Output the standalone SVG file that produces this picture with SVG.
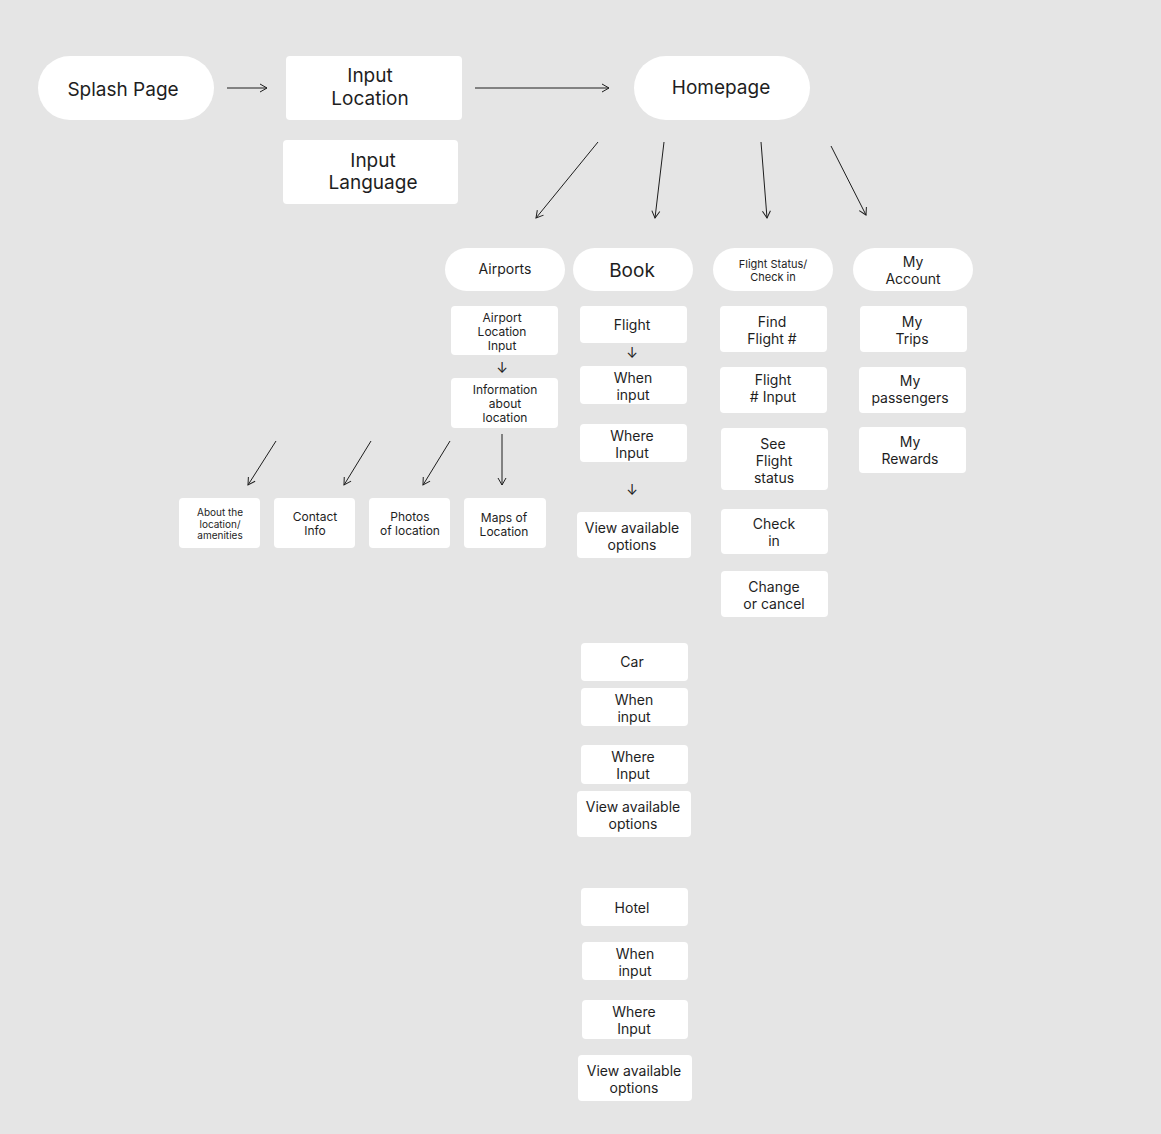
<svg xmlns="http://www.w3.org/2000/svg" width="1161" height="1134" viewBox="0 0 1161 1134">
<style>
.b{fill:#fff}
text{font-family:Inter,"Noto Sans","Liberation Sans",sans-serif;fill:#1e1e1e;text-anchor:middle;dominant-baseline:central}
.l{font-size:19px}.m{font-size:14px}.s{font-size:12px}.xs{font-size:11px}.t{font-size:10px}
.c line{stroke:#1e1e1e;stroke-width:1;marker-end:url(#a)}
</style>
<defs><marker id="a" markerWidth="10" markerHeight="10" refX="8" refY="5" orient="auto" markerUnits="userSpaceOnUse"><path d="M1,1 L8,5 L1,9" fill="none" stroke="#1e1e1e" stroke-width="1"/></marker></defs>
<rect width="1161" height="1134" fill="#e5e5e5"/>
<g class="c">
<line x1="227" y1="88" x2="267" y2="88"/>
<line x1="475" y1="88" x2="609" y2="88"/>
<line x1="598" y1="142" x2="536" y2="218"/>
<line x1="664" y1="142" x2="655" y2="218"/>
<line x1="761" y1="142" x2="767" y2="218"/>
<line x1="831" y1="146" x2="866" y2="215"/>
<line x1="276" y1="441" x2="248" y2="485"/>
<line x1="371" y1="441" x2="344" y2="485"/>
<line x1="450" y1="441" x2="423" y2="485"/>
<line x1="502" y1="434" x2="502" y2="485"/>
</g>
<g id="splash"><rect class="b" x="38" y="56" width="176" height="64" rx="32"/><text class="l" x="123" y="89">Splash Page</text></g>
<g id="inloc"><rect class="b" x="286" y="56" width="176" height="64" rx="4"/><text class="l" x="370" y="75">Input</text><text class="l" x="370" y="98">Location</text></g>
<g id="inlang"><rect class="b" x="283" y="140" width="175" height="64" rx="4"/><text class="l" x="373" y="160">Input</text><text class="l" x="373" y="182">Language</text></g>
<g id="home"><rect class="b" x="634" y="56" width="176" height="64" rx="32"/><text class="l" x="721" y="87">Homepage</text></g>
<g id="airports"><rect class="b" x="445" y="248" width="120" height="43" rx="21.5"/><text class="m" x="505" y="268">Airports</text></g>
<g id="book"><rect class="b" x="573" y="248" width="120" height="43" rx="21.5"/><text class="l" x="632" y="270">Book</text></g>
<g id="fstatus"><rect class="b" x="713" y="248" width="120" height="43" rx="21.5"/><text class="xs" x="773" y="264">Flight Status/</text><text class="xs" x="773" y="277">Check in</text></g>
<g id="account"><rect class="b" x="853" y="248" width="120" height="43" rx="21.5"/><text class="m" x="913" y="261">My</text><text class="m" x="913" y="278">Account</text></g>
<g id="apin"><rect class="b" x="451" y="306" width="107" height="49" rx="4"/><text class="s" x="502" y="317">Airport</text><text class="s" x="502" y="331">Location</text><text class="s" x="502" y="345">Input</text></g>
<text class="m" x="502" y="367">↓</text>
<g id="info"><rect class="b" x="451" y="378" width="107" height="50" rx="4"/><text class="s" x="505" y="389">Information</text><text class="s" x="505" y="403">about</text><text class="s" x="505" y="417">location</text></g>
<g id="about"><rect class="b" x="179" y="498" width="81" height="50" rx="4"/><text class="t" x="220" y="512">About the</text><text class="t" x="220" y="524">location/</text><text class="t" x="220" y="535">amenities</text></g>
<g id="contact"><rect class="b" x="274" y="498" width="81" height="50" rx="4"/><text class="s" x="315" y="516">Contact</text><text class="s" x="315" y="530">Info</text></g>
<g id="photos"><rect class="b" x="369" y="498" width="81" height="50" rx="4"/><text class="s" x="410" y="516">Photos</text><text class="s" x="410" y="530">of location</text></g>
<g id="maps"><rect class="b" x="464" y="498" width="82" height="50" rx="4"/><text class="s" x="504" y="517">Maps of</text><text class="s" x="504" y="531">Location</text></g>
<g id="flight"><rect class="b" x="580" y="306" width="107" height="37" rx="4"/><text class="m" x="632" y="324">Flight</text></g>
<text class="m" x="632" y="352">↓</text>
<g id="when1"><rect class="b" x="580" y="366" width="107" height="38" rx="4"/><text class="m" x="633" y="377">When</text><text class="m" x="633" y="394">input</text></g>
<g id="where1"><rect class="b" x="580" y="424" width="107" height="38" rx="4"/><text class="m" x="632" y="435">Where</text><text class="m" x="632" y="452">Input</text></g>
<text class="m" x="632" y="489">↓</text>
<g id="view1"><rect class="b" x="577" y="512" width="114" height="46" rx="4"/><text class="m" x="632" y="527">View available</text><text class="m" x="632" y="544">options</text></g>
<g id="car"><rect class="b" x="581" y="643" width="107" height="38" rx="4"/><text class="m" x="632" y="661">Car</text></g>
<g id="when2"><rect class="b" x="581" y="688" width="107" height="38" rx="4"/><text class="m" x="634" y="699">When</text><text class="m" x="634" y="716">input</text></g>
<g id="where2"><rect class="b" x="581" y="745" width="107" height="39" rx="4"/><text class="m" x="633" y="756">Where</text><text class="m" x="633" y="773">Input</text></g>
<g id="view2"><rect class="b" x="577" y="791" width="114" height="46" rx="4"/><text class="m" x="633" y="806">View available</text><text class="m" x="633" y="823">options</text></g>
<g id="hotel"><rect class="b" x="581" y="888" width="107" height="38" rx="4"/><text class="m" x="632" y="907">Hotel</text></g>
<g id="when3"><rect class="b" x="582" y="942" width="106" height="38" rx="4"/><text class="m" x="635" y="953">When</text><text class="m" x="635" y="970">input</text></g>
<g id="where3"><rect class="b" x="582" y="1000" width="106" height="39" rx="4"/><text class="m" x="634" y="1011">Where</text><text class="m" x="634" y="1028">Input</text></g>
<g id="view3"><rect class="b" x="578" y="1055" width="114" height="46" rx="4"/><text class="m" x="634" y="1070">View available</text><text class="m" x="634" y="1087">options</text></g>
<g id="find"><rect class="b" x="720" y="306" width="107" height="46" rx="4"/><text class="m" x="772" y="321">Find</text><text class="m" x="772" y="338">Flight #</text></g>
<g id="fnum"><rect class="b" x="720" y="367" width="107" height="46" rx="4"/><text class="m" x="773" y="379">Flight</text><text class="m" x="773" y="396"># Input</text></g>
<g id="see"><rect class="b" x="721" y="428" width="107" height="62" rx="4"/><text class="m" x="773" y="443">See</text><text class="m" x="774" y="460">Flight</text><text class="m" x="774" y="477">status</text></g>
<g id="check"><rect class="b" x="721" y="509" width="107" height="45" rx="4"/><text class="m" x="774" y="523">Check</text><text class="m" x="774" y="540">in</text></g>
<g id="change"><rect class="b" x="721" y="571" width="107" height="46" rx="4"/><text class="m" x="774" y="586">Change</text><text class="m" x="774" y="603">or cancel</text></g>
<g id="trips"><rect class="b" x="860" y="306" width="107" height="46" rx="4"/><text class="m" x="912" y="321">My</text><text class="m" x="912" y="338">Trips</text></g>
<g id="pass"><rect class="b" x="859" y="367" width="107" height="46" rx="4"/><text class="m" x="910" y="380">My</text><text class="m" x="910" y="397">passengers</text></g>
<g id="rewards"><rect class="b" x="859" y="427" width="107" height="46" rx="4"/><text class="m" x="910" y="441">My</text><text class="m" x="910" y="458">Rewards</text></g>
</svg>
